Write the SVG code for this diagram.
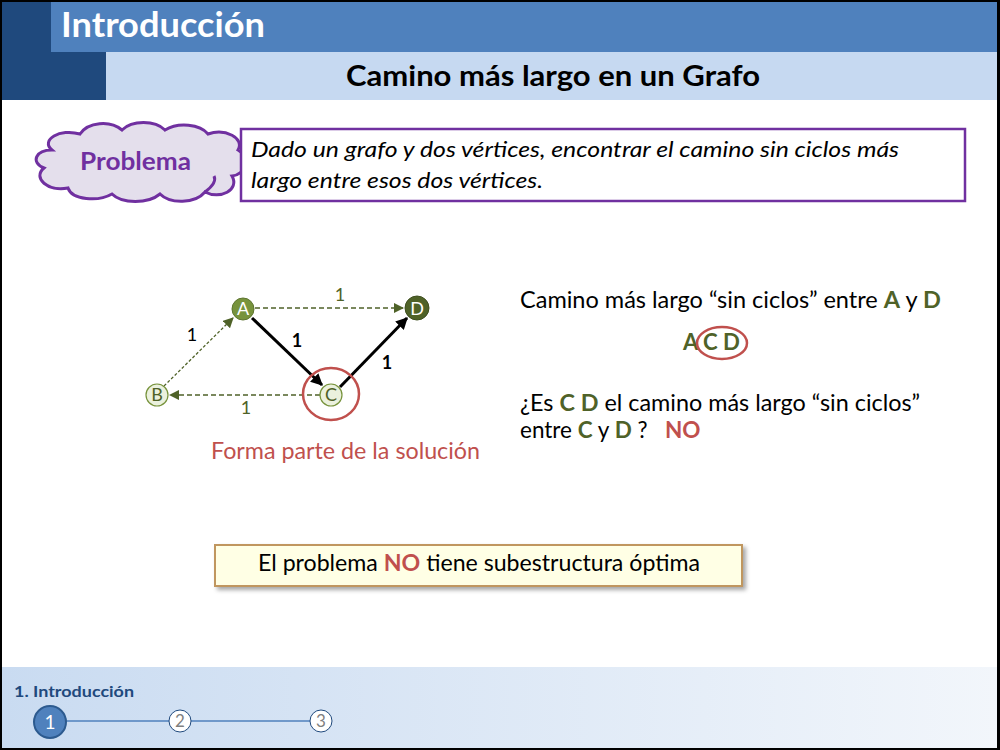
<svg xmlns="http://www.w3.org/2000/svg" width="1000" height="750" viewBox="0 0 1000 750">
  <defs>
    <style>
      text { font-family: Lato, "Open Sans", "Liberation Sans", sans-serif; }
      .node-dark { fill: #77933C; stroke: #5E7530; stroke-width: 1; }
      .node-darker { fill: #4F6228; stroke: #3F4F20; stroke-width: 1; }
      .node-light { fill: #EBF1DE; stroke: #77933C; stroke-width: 1.2; }
      .lbl-w { fill: #FFFFFF; font-size: 18px; text-anchor: middle; }
      .lbl-g { fill: #4F6228; font-size: 18px; text-anchor: middle; }
      .edge-solid { stroke: #000000; stroke-width: 3; fill: none; }
      .edge-dash { stroke: #4F6228; stroke-width: 1.3; stroke-dasharray: 5 3; fill: none; }
      .edge-dot { stroke: #4F6228; stroke-width: 1.3; stroke-dasharray: 3 2; fill: none; }
      .w-g { fill: #4F6228; font-size: 18px; }
      .w-b { fill: #000000; font-size: 18px; }
      .body { font-size: 22.5px; fill: #000000; }
      .grn { fill: #4F6228; font-weight: bold; }
      .red { fill: #C0504D; font-weight: bold; }
    </style>
    <marker id="arrBlack" viewBox="0 0 10 10" refX="9" refY="5" markerWidth="4" markerHeight="4" orient="auto" markerUnits="strokeWidth">
      <path d="M0,0 L10,5 L0,10 z" fill="#000000"/>
    </marker>
    <marker id="arrGreen" viewBox="0 0 10 10" refX="9" refY="5" markerWidth="8" markerHeight="8" orient="auto" markerUnits="strokeWidth">
      <path d="M0,0 L10,5 L0,10 z" fill="#4F6228"/>
    </marker>
    <linearGradient id="footGrad" x1="0" y1="0" x2="1" y2="0">
      <stop offset="0" stop-color="#C9DBF1"/>
      <stop offset="1" stop-color="#F2F6FB"/>
    </linearGradient>
    <filter id="shadow" x="-5%" y="-20%" width="115%" height="160%">
      <feDropShadow dx="3" dy="3" stdDeviation="2" flood-color="#000000" flood-opacity="0.35"/>
    </filter>
  </defs>

  <!-- page frame -->
  <rect x="0" y="0" width="1000" height="750" fill="#000000"/>
  <rect x="2" y="2" width="995" height="746" fill="#FFFFFF"/>

  <!-- header bands -->
  <g id="header">
    <rect x="51" y="2" width="946" height="50" fill="#4F81BD"/>
    <rect x="106" y="52" width="891" height="48" fill="#C6D9F1"/>
    <rect x="2" y="2" width="49" height="98" fill="#1F497D"/>
    <rect x="51" y="52" width="55" height="48" fill="#1F497D"/>
    <text x="61" y="37" font-size="34" font-weight="bold" fill="#FFFFFF" textLength="204" lengthAdjust="spacingAndGlyphs">Introducción</text>
    <text x="346" y="86" font-size="28" font-weight="bold" fill="#000000" textLength="414" lengthAdjust="spacingAndGlyphs">Camino más largo en un Grafo</text>
  </g>

  <!-- problem statement -->
  <g id="problema">
    <path d="M52,150 C40,140 60,128 80,134 C88,122 110,120 122,130 C132,120 155,120 165,130 C178,122 200,124 208,134 C225,128 245,138 238,150 C252,158 245,175 232,176 C240,190 220,200 205,192 C195,204 170,204 160,194 C148,204 122,204 112,194 C98,202 72,200 68,188 C48,192 32,178 44,168 C30,162 36,150 52,150 Z" fill="#E4DFEC" stroke="#7030A0" stroke-width="3"/>
    <path d="M205,192 C213,186 216,180 214,176" fill="none" stroke="#7030A0" stroke-width="3"/>
    <text x="80" y="170" font-size="25" font-weight="bold" fill="#7030A0" textLength="111" lengthAdjust="spacingAndGlyphs">Problema</text>
  </g>
  <g id="definicion">
    <rect x="241" y="129" width="724" height="72" fill="#FFFFFF" stroke="#7030A0" stroke-width="2.5"/>
    <text x="251" y="157" font-size="21" font-style="italic" fill="#000000" textLength="648" lengthAdjust="spacingAndGlyphs">Dado un grafo  y dos vértices, encontrar el camino sin ciclos más</text>
    <text x="251" y="188" font-size="21" font-style="italic" fill="#000000" textLength="292" lengthAdjust="spacingAndGlyphs">largo entre esos dos vértices.</text>
  </g>

  <!-- graph edges -->
  <g id="connectors">
    <line x1="255" y1="308" x2="403" y2="308" class="edge-dash" marker-end="url(#arrGreen)"/>
    <line x1="252" y1="318" x2="322" y2="385" class="edge-solid" marker-end="url(#arrBlack)"/>
    <line x1="340" y1="387" x2="407" y2="318" class="edge-solid" marker-end="url(#arrBlack)"/>
    <line x1="320" y1="395" x2="170" y2="395" class="edge-dash" marker-end="url(#arrGreen)"/>
    <line x1="164" y1="386" x2="233" y2="318" class="edge-dot" marker-end="url(#arrGreen)"/>
    <text x="340" y="301" class="w-g" text-anchor="middle">1</text>
    <text x="192" y="341" class="w-b" text-anchor="middle">1</text>
    <text x="297" y="347" class="w-b" font-weight="bold" text-anchor="middle">1</text>
    <text x="387" y="369" class="w-b" font-weight="bold" text-anchor="middle">1</text>
    <text x="246" y="414" class="w-g" text-anchor="middle">1</text>
  </g>

  <!-- graph nodes -->
  <g id="node-A">
    <circle cx="243" cy="309" r="11" class="node-dark"/>
    <text x="243" y="315" class="lbl-w">A</text>
  </g>
  <g id="node-D">
    <circle cx="417" cy="308" r="12" class="node-darker"/>
    <text x="417" y="314.5" class="lbl-w">D</text>
  </g>
  <g id="node-B">
    <circle cx="157" cy="395" r="11" class="node-light"/>
    <text x="157" y="401" class="lbl-g">B</text>
  </g>
  <g id="node-C">
    <circle cx="331" cy="395" r="11" class="node-light"/>
    <text x="331" y="401" class="lbl-g">C</text>
    <ellipse cx="331" cy="394" rx="28" ry="26" fill="none" stroke="#C0504D" stroke-width="2.5"/>
  </g>

  <text x="211" y="459" font-size="22.5" fill="#C0504D" textLength="269" lengthAdjust="spacingAndGlyphs">Forma parte de la solución</text>

  <!-- explanation -->
  <g id="explicacion">
    <text x="520" y="308" class="body" textLength="421" lengthAdjust="spacingAndGlyphs">Camino más largo “sin ciclos” entre <tspan class="grn">A</tspan> y <tspan class="grn">D</tspan></text>
    <text x="683" y="350" class="body grn" textLength="57" lengthAdjust="spacingAndGlyphs">A C D</text>
    <ellipse cx="722" cy="343" rx="25" ry="16" fill="none" stroke="#C0504D" stroke-width="2.5"/>
    <text x="520" y="411" class="body" textLength="400" lengthAdjust="spacingAndGlyphs">¿Es <tspan class="grn">C D</tspan> el camino más largo “sin ciclos”</text>
    <text x="520" y="438" class="body">entre <tspan class="grn">C</tspan> y <tspan class="grn">D</tspan> ?<tspan x="665" class="red">NO</tspan></text>
  </g>

  <!-- conclusion -->
  <g id="conclusion">
    <rect x="215" y="545" width="527" height="41" fill="#FFFFE5" stroke="#C0965F" stroke-width="2" filter="url(#shadow)"/>
    <text x="258" y="571" class="body" textLength="442" lengthAdjust="spacingAndGlyphs">El problema <tspan class="red">NO</tspan> tiene subestructura óptima</text>
  </g>

  <!-- footer navigation -->
  <g id="footer">
    <rect x="2" y="667" width="995" height="81" fill="url(#footGrad)"/>
    <text x="14" y="697" font-size="16" font-weight="bold" fill="#1F497D" textLength="120" lengthAdjust="spacingAndGlyphs">1. Introducción</text>
    <line x1="66" y1="721" x2="169" y2="721" stroke="#4F81BD" stroke-width="1.5"/>
    <line x1="191" y1="721" x2="310" y2="721" stroke="#4F81BD" stroke-width="1.5"/>
    <circle cx="50" cy="722" r="16" fill="#4F81BD" stroke="#2C5A8F" stroke-width="2"/>
    <text x="50" y="729" font-size="19" fill="#FFFFFF" text-anchor="middle">1</text>
    <circle cx="180" cy="721" r="11" fill="#FFFFFF" stroke="#1F497D" stroke-width="1"/>
    <text x="180" y="727" font-size="17" fill="#7F7F7F" text-anchor="middle">2</text>
    <circle cx="321" cy="721" r="11" fill="#FFFFFF" stroke="#1F497D" stroke-width="1"/>
    <text x="321" y="727" font-size="17" fill="#7F7F7F" text-anchor="middle">3</text>
  </g>
</svg>
